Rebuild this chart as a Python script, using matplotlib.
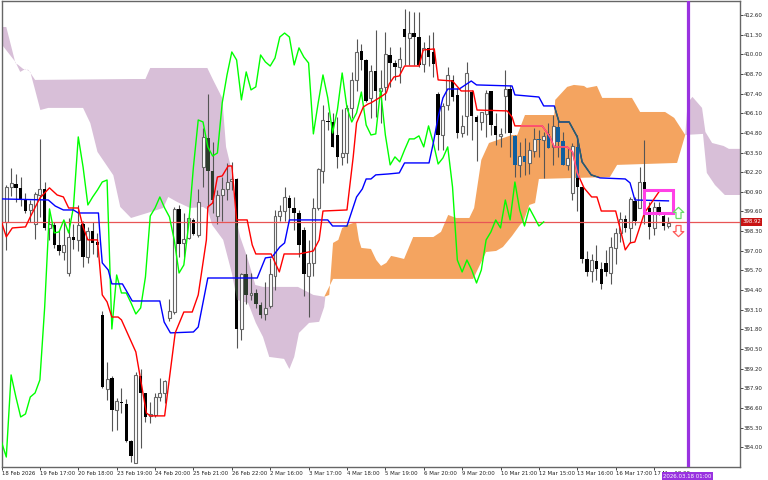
import numpy as np
import matplotlib
matplotlib.use("Agg")
import matplotlib.pyplot as plt
from matplotlib.patches import Polygon, Rectangle
from matplotlib.path import Path

bar_kind = ("WWBBBWWWBW" "BBWWBWBWBB" "BWBWBBBWBB" "WWWWWWBWWB" "WWBBWWWWBW" "BWBBWWWWWB" "BBBWWWWBBB"
            "WWWWBBWBWW" "BBWBWBBWBB" "BWWBBWWBBW" "WBBWWBBWBW" "WBWBWBBWWB" "BBWBBBWWWB" "WBWBBWBBW")
body_top = [401.24,401.5,401.4,401.13,400.4,400.1,400.74,401.07,401.07,398.8,
            398.7,397.39,397.39,397.9,397.9,398.7,398.8,398.3,398.3,397.6,
            392.76,388.5,388.57,387.07,387.0,386.87,384.42,388.79,388.72,387.58,
            386.2,387.3,387.58,388.4,393.0,399.74,399.74,397.75,399.15,399.04,
            400.2,404.55,404.44,402.3,400.69,401.07,401.57,401.75,401.75,395.47,
            395.47,394.2,394.2,393.4,393.2,395.45,399.3,399.65,400.58,400.5,
            399.8,399.5,398.4,396.18,399.8,402.4,405.65,405.6,405.5,404.66,
            403.45,406.42,408.3,410.17,410.2,409.6,408.9,408.9,407.79,410.0,
            409.95,409.45,409.67,411.65,411.38,411.38,411.12,410.4,410.4,410.17,
            407.4,406.58,408.63,408.3,407.3,405.28,408.74,407.53,405.83,406.2,
            407.46,407.6,405.28,404.7,407.68,407.68,404.6,403.27,403.27,403.67,
            404.37,404.4,404.6,404.7,405.25,405.17,404.28,403.12,403.95,403.89,
            401.24,396.43,396.38,396.34,395.77,396.16,397.22,398.2,399.08,399.08,
            400.4,400.3,401.57,401.53,399.8,399.87,399.87,399.3,398.85]
body_bot = [398.9,401.24,401.13,400.36,399.65,399.7,398.77,400.7,398.5,398.5,
            397.4,397.0,396.95,395.56,397.7,397.7,396.57,396.57,397.5,397.4,
            388.0,387.84,386.5,386.5,386.9,384.42,383.4,382.95,387.58,386.03,
            386.1,386.14,387.3,387.58,392.58,392.93,397.45,397.5,397.82,398.09,
            398.04,402.57,402.3,400.36,399.3,400.7,401.07,401.6,391.8,391.81,
            394.1,394.08,393.5,392.76,392.8,393.38,395.34,399.3,399.65,399.8,
            399.5,397.4,395.45,395.3,396.18,399.8,402.3,405.5,403.85,403.23,
            403.2,403.5,406.42,408.3,409.6,406.9,407.1,407.6,407.59,407.8,
            409.45,409.18,409.18,411.12,411.05,411.12,409.3,409.34,409.84,409.36,
            404.66,404.64,406.64,407.2,404.8,404.8,405.92,405.9,405.52,405.54,
            406.05,405.3,404.66,404.6,407.26,404.77,402.67,402.67,402.9,402.8,
            403.62,404.3,404.33,403.82,403.89,404.17,402.67,402.67,400.84,401.24,
            396.43,395.6,395.66,395.8,394.8,395.57,395.55,397.16,398.2,398.48,
            398.48,399.0,399.8,399.4,398.6,398.52,399.47,398.63,398.63]
wick_high = [401.35,402.45,402.1,401.86,400.8,400.36,400.9,404.4,401.57,399.7,
             398.9,398.4,398.9,399.2,398.8,400.0,399.0,398.6,398.9,398.2,
             393.0,389.67,388.7,387.25,387.9,387.2,384.5,388.98,389.16,387.58,
             387.0,387.6,388.57,388.46,393.8,399.9,400.0,399.5,399.5,399.15,
             401.07,405.1,407.4,404.2,401.0,401.9,402.8,402.85,401.8,395.5,
             396.8,395.5,394.5,393.64,394.96,396.5,399.7,400.0,401.2,400.7,
             400.58,399.7,398.6,397.72,400.5,402.5,406.64,406.2,406.1,405.87,
             406.4,406.64,408.85,411.0,410.7,409.7,409.3,411.6,408.96,411.5,
             410.5,409.6,410.5,412.97,412.88,412.82,412.82,410.83,411.3,411.5,
             407.5,406.8,409.18,408.63,407.75,405.98,409.5,407.63,406.0,406.2,
             407.63,407.6,406.09,405.1,408.96,407.97,404.66,404.2,404.44,404.2,
             405.1,405.0,404.88,405.43,405.98,405.65,404.88,403.78,404.1,404.66,
             401.24,397.0,396.76,397.38,396.27,397.05,397.93,398.48,399.58,399.38,
             400.53,400.57,402.56,404.33,400.24,400.24,400.24,399.47,399.25]
wick_low = [397.05,400.6,400.2,399.96,399.5,398.9,397.8,399.25,398.38,397.7,
            397.2,396.73,396.4,395.3,397.1,397.0,395.96,396.2,396.8,396.57,
            387.9,387.1,385.08,385.15,386.3,384.38,383.06,382.95,383.94,385.7,
            385.6,386.0,387.09,386.9,392.36,392.85,396.6,396.6,397.75,398.05,
            397.9,401.24,399.9,399.5,398.77,399.0,400.36,401.0,390.6,391.1,
            393.5,393.75,393.2,392.54,392.4,393.2,394.4,399.0,399.0,399.0,
            398.4,396.6,394.0,392.65,395.3,399.7,401.46,405.0,403.87,402.45,
            402.68,402.8,405.8,407.6,408.96,406.87,405.8,405.87,405.43,407.0,
            407.85,408.3,408.1,409.3,409.3,409.3,409.18,408.85,409.2,408.5,
            403.67,403.67,406.3,406.9,404.44,404.55,404.66,404.33,402.96,404.99,
            404.55,404.66,404.0,403.89,404.77,403.23,401.9,401.9,402.0,402.1,
            403.2,403.2,401.8,403.78,402.67,403.2,402.67,402.35,400.36,399.65,
            396.2,395.33,394.95,395.06,394.44,395.35,394.8,396.1,397.6,398.26,
            397.53,398.7,399.8,398.8,397.75,398.04,399.36,398.37,398.48]

chikou = [384.36,383.36,388.79,387.33,386.01,386.21,387.33,387.6,388.46,393.28,399.77,398.18,398.25,399.04,398.18,399.9,
          404.53,402.54,400.03,400.56,401.02,401.55,401.68,391.83,395.4,394.21,394.21,393.55,392.82,393.22,395.27,399.3,
          399.83,400.56,399.83,399.24,397.72,395.53,396.06,398.71,402.54,405.65,405.52,403.87,403.27,403.47,406.78,408.63,
          410.15,409.62,406.98,408.83,407.64,407.84,409.95,409.49,409.22,409.75,411.14,411.4,411.14,409.29,410.42,409.82,
          409.42,404.73,406.78,408.63,407.11,404.79,406.31,408.76,406.45,405.52,406.12,407.5,405.32,404.66,404.73,407.64,
          404.66,402.68,403.21,402.88,403.67,404.4,404.4,404.6,403.87,405.26,404.13,402.74,403.14,403.87,401.22,396.39,
          395.6,396.39,395.73,394.87,395.73,397.72,398.25,399.04,398.51,400.36,399.04,401.55,399.7,398.64,399.83,399.24,
          398.64,398.91]

tenkan_x = [-1,0,1.25,4,5,7,9,10.6,11.9,13,15,16,17,19,20,21,22,23.3,24,27,29.2,30,33,35.2,37,38.75,40,41.7,42,43,44,45,
            46.25,47,48,50.2,51.25,52,55.2,56.9,57.9,61,63,64,65.2,66,71,72.3,73,74.4,75.4,76,78,79.2,79.8,80.8,81.9,83,
            86,86.9,89.2,90,93,94.8,97.3,98.1,104.4,105.4,106,111.7,113.3,114.2,116.9,118,119,120.4,122,123.1,124,127,
            128,129,130,131,133,136]
tenkan_y = [398.91,397.92,398.51,398.58,399.24,400.49,401.16,400.69,400.56,399.83,399.83,398.58,397.72,397.72,394.08,393.62,
            392.62,392.62,392.43,390.31,386.27,386.08,386.08,391.57,392.95,392.95,394.08,397.72,399.9,400.16,401.88,401.95,
            402.61,402.61,399.04,399.04,397.39,396.79,396.79,395.6,396.79,396.79,396.92,396.99,397.72,399.63,399.7,403.21,
            405.46,406.51,406.71,406.78,407.17,407.44,408.03,408.5,408.56,409.22,409.22,410.28,410.35,408.3,408.23,407.57,
            407.57,406.31,406.25,405.85,405.26,405.26,404.53,403.87,403.87,403.54,402.15,401.16,400.56,400.56,399.63,399.63,
            398.38,397.06,397.52,397.58,399.5,400.89]
kijun_x = [-1,8.75,10.2,11.9,14,15,19.2,19.6,20,21.25,22,24.2,26.25,32,32.9,34.2,39,40,42,52.3,54,55.4,57,58,59,67,68,71,73,
           74.2,75,76,77,79.6,81.9,83,88.1,89,90,91,92,94.4,96.9,98,105.4,106,111,112,114.2,115.2,117.3,119,120,121.9,
           123.75,129,130,131,138]
kijun_y = [400.43,400.36,399.96,399.7,399.7,399.5,399.5,397.72,396.2,395.73,394.81,394.81,393.68,393.68,392.29,391.57,391.63,
           391.96,395.2,395.2,396.53,396.59,397.25,397.52,399.04,399.04,398.64,398.64,400.56,401.09,401.75,401.75,402.02,
           402.08,402.15,402.81,402.81,404.13,405.85,407.11,407.7,407.7,408.23,407.97,407.9,407.31,407.17,406.58,406.58,
           405.52,405.52,404.53,402.88,402.02,401.82,401.75,401.49,400.36,400.3]

purple1_top_x = [-1.2,0,1.9,2.5,3.5,4.6,6,26.5,29,30,41.9,43.1,45,45.8,46.7,47.3,48.1,48.75,50.2,51.9,53.5,60.8,64,66.5]
purple1_top_y = [411.8,411.8,409.42,409.29,409.03,408.96,408.3,408.36,408.36,409.09,409.09,408.3,407.11,403.87,402.68,401.02,
                 398.84,397.91,396.59,394.74,394.61,394.61,394.08,393.95]
purple1_bot_x = [-1.2,1.9,2.9,4,5,6,7.1,8.75,16,17.5,19,22.3,23.75,26,29.4,32.7,33.75,35.6,38.3,41,42,42.9,45.2,47,48.1,50.4,
                 52,53.5,54.8,57.9,59,60,61,63.1,65.2,66.25,66.5]
purple1_bot_y = [410.75,409.49,408.83,409.03,408.83,407.64,406.31,406.45,406.45,405.45,403.54,402.0,399.9,399.17,399.5,399.83,
                 400.56,400.23,399.83,399.9,399.7,398.71,397.72,395.53,393.75,393.55,392.23,391.3,389.98,389.85,389.18,389.98,
                 391.57,392.23,392.3,393.28,393.95]
orange_top_x = [66.25,67.3,68.1,69.2,70,71.25,72.9,73.5,74,76,77.1,78.1,79.2,80.2,81.25,82.9,84.8,89,90.6,92.1,93.75,96.5,97.5,
                99,100.6,105.4,106.5,108.1,114.2,114.4,116.9,118.3,120.4,121,123.1,124.2,130.4,132.1,137.3,139.2,141.5]
orange_top_y = [393.95,394.08,397.52,397.72,398.51,398.71,398.91,397.72,397.19,397.12,396.39,396.0,396.2,396.66,396.59,396.46,
                397.91,397.91,398.25,399.37,399.17,399.17,399.83,403.01,404.13,404.66,404.66,405.98,405.98,406.98,407.84,407.97,
                407.9,407.77,407.9,407.11,407.11,406.18,406.18,405.79,404.66]
orange_bot_x = [66.25,68.1,97.3,100,102.1,103.5,105.4,106.9,107.9,109,110.2,111,125.8,127.3,139.8,141.5]
orange_bot_y = [393.95,395.14,395.14,396.92,396.99,397.25,397.98,398.64,399.04,400.03,400.16,401.75,401.88,402.68,402.81,404.66]
purple2_top_x = [141.5,142,143,145,145.7,147.1,149.5,150.6,152.9]
purple2_top_y = [404.66,406.78,407.18,406.45,404.86,404.13,403.93,403.74,403.74]
purple2_bot_x = [141.5,145.2,146,147.7,149.75,152.9]
purple2_bot_y = [404.66,404.73,402.15,401.35,400.69,400.69]

price_ticks = [412.6,411.3,410.0,408.7,407.4,406.1,404.8,403.5,402.2,400.9,399.6,398.3,397.0,395.7,394.4,393.1,391.8,390.5,
               389.2,387.9,386.6,385.3,384.0]
time_labels = ["18 Feb 2026","19 Feb 17:00","20 Feb 18:00","23 Feb 19:00","24 Feb 20:00","25 Feb 21:00","26 Feb 22:00",
               "2 Mar 16:00","3 Mar 17:00","4 Mar 18:00","5 Mar 19:00","6 Mar 20:00","9 Mar 20:00","10 Mar 21:00",
               "12 Mar 15:00","13 Mar 16:00","16 Mar 17:00","17 Mar 18:00"]
time_ticks = [-1,7,15,23,31,39,47,55,63,71,79,87,95,103,111,119,127,135]
last_price = 398.92
now_bar = 142
now_label = "2026.03.18 01:00"
box_x = [133, 139]
box_y = [399.5, 401.0]
up_arrow = (140, 399.15)
down_arrow = (140, 398.7)

W, H = 768, 480
fig = plt.figure(figsize=(W/100, H/100), dpi=100, facecolor="white")
ax = fig.add_axes([1.5/W, (H-467)/H, (739.7-1.5)/W, 466/H])
ax.set_xlim(-0.94, 152.85)
ax.set_ylim(382.70, 413.52)

THISTLE = "#D8BFD8"
ORANGE = "#F4A460"
def cloud(tx, ty, bx, by, color):
    xy = np.column_stack([list(tx)+list(bx)[::-1], list(ty)+list(by)[::-1]])
    p = Polygon(xy, closed=True, facecolor=color, edgecolor="none", zorder=1)
    ax.add_patch(p)
    return p
p1 = cloud(purple1_top_x, purple1_top_y, purple1_bot_x, purple1_bot_y, THISTLE)
p3 = cloud(purple2_top_x, purple2_top_y, purple2_bot_x, purple2_bot_y, THISTLE)
po = cloud(orange_top_x, orange_top_y, orange_bot_x, orange_bot_y, ORANGE)

idx = np.arange(len(bar_kind))
top = np.array(body_top); bot = np.array(body_bot)
isw = np.array([k == "W" for k in bar_kind])
ax.vlines(idx, wick_low, wick_high, color="#555555", lw=0.8, zorder=2)
ax.bar(idx[isw], top[isw]-bot[isw], bottom=bot[isw], width=0.62, facecolor="white", edgecolor="#666666", lw=0.8, zorder=3)
ax.bar(idx[~isw], top[~isw]-bot[~isw], bottom=bot[~isw], width=0.72, facecolor="black", edgecolor="none", zorder=3)
for patch, c in ((po, "#0F5FA0"), (p1, "#2C3C2C")):
    bars = ax.bar(idx[~isw], top[~isw]-bot[~isw], bottom=bot[~isw], width=0.72, facecolor=c, edgecolor="none", zorder=3.1)
    for b in bars:
        b.set_clip_path(patch)

ax.axhline(last_price, color="#E85555", lw=0.9, zorder=4)
ax.plot(np.arange(len(chikou))-1, chikou, color="#00FF00", lw=1.0, zorder=5)
ax.plot(kijun_x, kijun_y, color="#0000FF", lw=1.0, zorder=5.1)
l = ax.plot(kijun_x, kijun_y, color="#2E6A58", lw=1.0, zorder=5.2)[0]
l.set_clip_path(po)
ax.plot(tenkan_x, tenkan_y, color="#FF0000", lw=1.0, zorder=5.3)
l = ax.plot(tenkan_x, tenkan_y, color="#FF5F8F", lw=1.0, zorder=5.4)[0]
l.set_clip_path(po)

ax.axvline(now_bar, color="#9932E0", lw=2.3, zorder=6)
ax.add_patch(Rectangle((box_x[0], box_y[0]), box_x[1]-box_x[0], box_y[1]-box_y[0], fill=False,
                       edgecolor="#FF40E6", lw=2.2, zorder=6, joinstyle="miter"))

up = Path([(-.45,0),(-.45,1.1),(-.95,1.1),(0,2),(.95,1.1),(.45,1.1),(.45,0),(-.45,0)], closed=False)
down = Path([(-.45,0),(-.45,-1.1),(-.95,-1.1),(0,-2),(.95,-1.1),(.45,-1.1),(.45,0),(-.45,0)], closed=False)
ax.plot([up_arrow[0]], [up_arrow[1]], marker=up, ms=16, mfc="white", mec="#66E066", mew=0.9, zorder=6)
ax.plot([down_arrow[0]], [down_arrow[1]], marker=down, ms=16, mfc="white", mec="#FF5A5A", mew=0.9, zorder=6)

for s in ax.spines.values():
    s.set_color("#666666"); s.set_linewidth(1.0)
FS = 3.9
ax.yaxis.tick_right()
ax.set_yticks(price_ticks)
ax.set_yticklabels(["%.2f" % v for v in price_ticks], fontsize=FS, family="DejaVu Sans", color="#222222")
ax.tick_params(axis="y", length=2, width=0.7, color="#444444", pad=1)
ax.set_xticks(time_ticks)
ax.set_xticklabels(time_labels, fontsize=FS, ha="left", family="DejaVu Sans", color="#222222")
ax.tick_params(axis="x", length=2, width=0.7, color="#444444", pad=1)

ax.text(1.0035, last_price, "%.2f" % last_price, transform=ax.get_yaxis_transform(), va="center", ha="left",
        fontsize=FS, color="white", family="DejaVu Sans", zorder=10, clip_on=False,
        bbox=dict(boxstyle="square,pad=0.25", fc="#C81414", ec="none"))
ax.annotate(now_label, xy=(now_bar, 0), xycoords=ax.get_xaxis_transform(), xytext=(0, -6.5), textcoords="offset points",
            va="center", ha="center", fontsize=FS, color="white", family="DejaVu Sans", zorder=10, annotation_clip=False,
            bbox=dict(boxstyle="square,pad=0.3", fc="#9932E0", ec="none"))

fig.savefig("out.png", dpi=100, facecolor="white")
